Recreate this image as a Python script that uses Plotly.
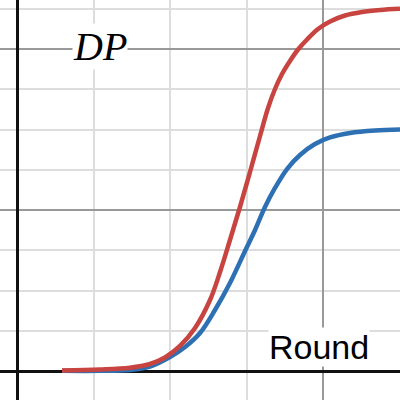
import plotly.graph_objects as go

# Values (minor grid step = 1 unit)
red_x = [0.586, 1.083, 1.475, 1.737, 1.933, 2.129, 2.326, 2.522, 2.653, 2.783, 2.914,
         3.045, 3.176, 3.281, 3.372, 3.464, 3.568, 3.673, 3.791, 3.935, 4.092, 4.288,
         4.510, 4.746, 5.007]
red_y = [0.012, 0.035, 0.080, 0.174, 0.336, 0.622, 1.069, 1.765, 2.461, 3.257, 4.078,
         4.948, 5.843, 6.539, 7.011, 7.384, 7.708, 7.993, 8.242, 8.503, 8.690, 8.839,
         8.926, 8.976, 9.006]

blue_x = [0.586, 1.083, 1.475, 1.737, 1.999, 2.195, 2.391, 2.587, 2.783, 2.980, 3.111,
          3.241, 3.372, 3.529, 3.699, 3.895, 4.092, 4.353, 4.680, 5.007]
blue_y = [0.005, 0.005, 0.025, 0.112, 0.348, 0.597, 0.945, 1.517, 2.188, 2.984, 3.506,
          4.078, 4.550, 5.022, 5.370, 5.643, 5.806, 5.918, 5.980, 6.004]

y_label = "DP"
x_label = "Round"

fig = go.Figure()
fig.add_trace(go.Scatter(x=blue_x, y=blue_y, mode="lines",
                         line=dict(color="#2d70b3", width=4.5, shape="spline", smoothing=1.0),
                         hoverinfo="skip", showlegend=False))
fig.add_trace(go.Scatter(x=red_x, y=red_y, mode="lines",
                         line=dict(color="#c74440", width=4.5, shape="spline", smoothing=1.0),
                         hoverinfo="skip", showlegend=False))

fig.add_annotation(x=1.083, y=8.08, xref="x", yref="y", text="<i>" + y_label + "</i>",
                   showarrow=False, bgcolor="white", borderpad=0,
                   font=dict(family="Liberation Serif", size=40, color="black"))
fig.add_annotation(x=3.950, y=0.60, xref="x", yref="y", text=x_label,
                   showarrow=False, bgcolor="white", borderpad=0,
                   font=dict(family="Liberation Sans", size=34, color="black"))

axis_common = dict(showticklabels=False, ticks="", showline=False,
                   zeroline=True, zerolinecolor="#111111", zerolinewidth=3,
                   showgrid=True, gridcolor="#999999", gridwidth=1.6,
                   minor=dict(dtick=1, showgrid=True, gridcolor="#dddddd", gridwidth=1.6),
                   dtick=4, tick0=0, fixedrange=True)

fig.update_layout(
    width=400, height=400, autosize=False,
    margin=dict(l=0, r=0, t=0, b=0),
    paper_bgcolor="white", plot_bgcolor="white",
    xaxis=dict(range=[-0.225, 5.007], **axis_common),
    yaxis=dict(range=[-0.721, 9.224], **axis_common),
)

fig.write_html("out.html", config={"displayModeBar": False},
               post_script="document.body.style.margin='0px';")
